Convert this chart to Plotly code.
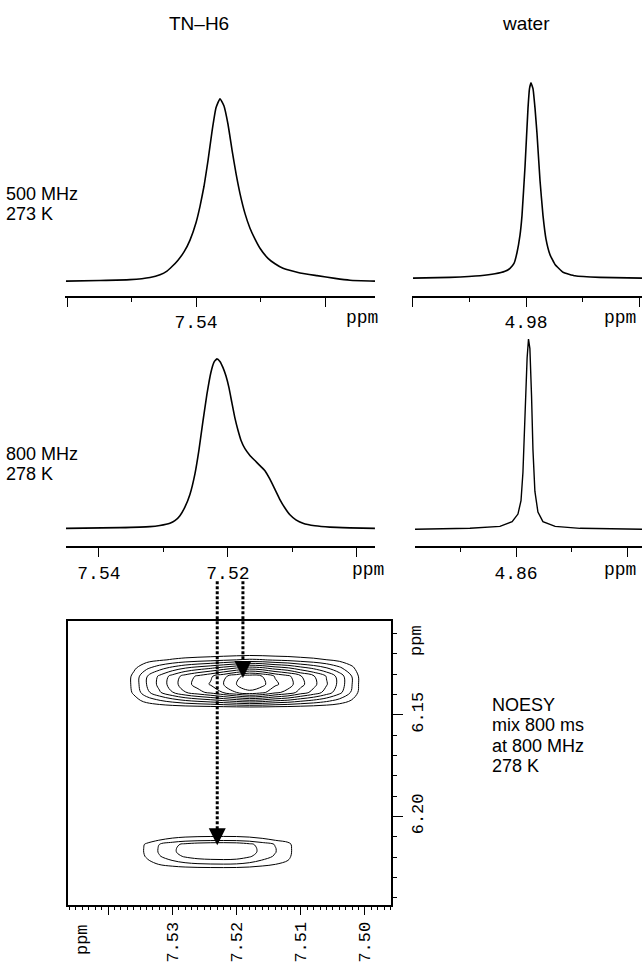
import plotly.graph_objects as go

W, H = 642, 963
MONO = "Liberation Mono, Courier New, monospace"
SANS = "Liberation Sans, Arial, sans-serif"

# ---------------- data ----------------
# 500 MHz / 273 K, TN-H6 (ppm, normalised intensity)
tn500_ppm = [7.56016, 7.55488, 7.55023, 7.54713, 7.54558, 7.54450, 7.54372, 7.54279, 7.54186, 7.54093,
             7.54000, 7.53938, 7.53876, 7.53814, 7.53752, 7.53690, 7.53628, 7.53566, 7.53504, 7.53442,
             7.53380, 7.53318, 7.53240, 7.53163, 7.53085, 7.53008, 7.52884, 7.52775, 7.52651, 7.52388,
             7.52124, 7.51845, 7.51612, 7.51225]
tn500_int = [0.0, 0.003, 0.008, 0.02, 0.035, 0.055, 0.08, 0.115, 0.16, 0.225,
             0.32, 0.41, 0.52, 0.66, 0.82, 0.95, 1.0, 0.96, 0.86, 0.72,
             0.59, 0.48, 0.37, 0.29, 0.23, 0.18, 0.125, 0.095, 0.07, 0.045,
             0.03, 0.015, 0.005, 0.0]

# 500 MHz water
w500_ppm = [5.0200, 5.0069, 4.99628, 4.99097, 4.98743, 4.98566, 4.98425, 4.98319, 4.98212, 4.98142,
            4.98035, 4.97929, 4.97876, 4.97823, 4.97752, 4.97681, 4.97611, 4.97504, 4.97398, 4.97292,
            4.97150, 4.96973, 4.96690, 4.96265, 4.95381, 4.93894]
w500_int = [0.0, 0.004, 0.012, 0.022, 0.035, 0.05, 0.075, 0.13, 0.22, 0.32,
            0.57, 0.87, 0.97, 1.0, 0.97, 0.87, 0.74, 0.50, 0.32, 0.20,
            0.12, 0.07, 0.03, 0.012, 0.004, 0.0]

# 800 MHz / 278 K, TN-H6
tn800_ppm = [7.54512, 7.53674, 7.53209, 7.53054, 7.52899, 7.52822, 7.52744, 7.52667, 7.52589, 7.52512,
             7.52450, 7.52388, 7.52326, 7.52264, 7.52217, 7.52171, 7.52124, 7.52078, 7.52031, 7.51984,
             7.51938, 7.51891, 7.51845, 7.51798, 7.51736, 7.51659, 7.51581, 7.51504, 7.51426, 7.51349,
             7.51271, 7.51194, 7.51116, 7.51039, 7.50946, 7.50837, 7.50651, 7.50419, 7.50109, 7.49721]
tn800_int = [0.0, 0.004, 0.01, 0.017, 0.03, 0.045, 0.075, 0.125, 0.2, 0.32,
             0.46, 0.63, 0.79, 0.92, 0.98, 1.0, 0.985, 0.95, 0.9, 0.83,
             0.74, 0.65, 0.58, 0.52, 0.47, 0.43, 0.40, 0.37, 0.34, 0.29,
             0.23, 0.17, 0.12, 0.08, 0.05, 0.03, 0.015, 0.007, 0.003, 0.0]

# 800 MHz water
w800_ppm = [4.8964, 4.8766, 4.8658, 4.8614, 4.8593, 4.8582, 4.8575, 4.8568, 4.8560, 4.8555,
            4.8550, 4.8544, 4.8539, 4.8532, 4.8521, 4.8503, 4.8459, 4.8369, 4.8146]
w800_int = [0.0, 0.005, 0.015, 0.04, 0.08, 0.15, 0.30, 0.60, 0.90, 1.0,
            0.95, 0.70, 0.42, 0.20, 0.09, 0.04, 0.015, 0.005, 0.0]

# NOESY cross peaks: grid columns (F2 ppm) and rows (F1 ppm) with intensity profiles
noesy_cols = [7.538, 7.536, 7.534, 7.532, 7.530, 7.528, 7.526, 7.524, 7.522, 7.520,
              7.518, 7.516, 7.514, 7.512, 7.510, 7.508, 7.506, 7.504, 7.502, 7.500]
upper_x_profile = [0.0, 1.3, 3.0, 4.3, 5.5, 6.6, 7.4, 8.1, 9.0, 10.0,
                   10.8, 10.3, 9.2, 8.5, 7.3, 6.3, 5.1, 3.7, 2.0, 0.0]
upper_rows = [6.119, 6.123, 6.127, 6.131, 6.135, 6.139, 6.143, 6.147, 6.151]
upper_y_profile = [0.0, 0.2, 0.6, 0.97, 1.0, 0.9, 0.45, 0.0, 0.0]

lower_x_profile = [0.0, 0.3, 1.2, 2.1, 2.8, 3.4, 3.75, 3.9, 3.95, 3.85,
                   3.4, 2.7, 2.05, 1.4, 0.0, 0.0, 0.0, 0.0, 0.0, 0.0]
lower_rows = [6.2078, 6.2098, 6.2118, 6.2137, 6.2157, 6.2176, 6.2196, 6.2216, 6.2235, 6.2255, 6.2275]
lower_y_profile = [0.0, 0.25, 0.5, 0.95, 1.0, 1.0, 0.92, 0.72, 0.5, 0.2, 0.0]

# arrows (NOESY coordinates of the arrow tips)
arrow_x = [7.5190, 7.5230]
arrow_y = [6.1319, 6.2142]

# ticks
tl_major = [7.56, 7.54, 7.52]; tl_major_text = ["", "7.54", ""]; tl_minor = [7.55, 7.53]
tw_major = [5.02, 4.98, 4.94]; tw_major_text = ["", "4.98", ""]; tw_minor = [5.00, 4.96]
ml_major = [7.54, 7.52, 7.50]; ml_major_text = ["7.54", "7.52", ""]; ml_minor = [7.53, 7.51]
mw_major = [4.86, 4.82]; mw_major_text = ["4.86", ""]; mw_minor = [4.88, 4.84]
nx_major = [7.54, 7.53, 7.52, 7.51, 7.50]; nx_major_text = ["", "7.53", "7.52", "7.51", "7.50"]
ny_major = [6.15, 6.20]; ny_major_text = ["6.15", "6.20"]
ny_minor = [6.11, 6.12, 6.13, 6.14, 6.16, 6.17, 6.18, 6.19, 6.21, 6.22, 6.23, 6.24]

# ---------------- layout helpers ----------------
def fx(px):
    return px / W

def fy(py):
    return 1 - py / H

NOESY_Y_RANGE = [6.24363, 6.10392]
NOESY_TOP, NOESY_BOT = 623, 908


def noesy_py(v):
    return NOESY_TOP + (v - NOESY_Y_RANGE[1]) / (NOESY_Y_RANGE[0] - NOESY_Y_RANGE[1]) * (NOESY_BOT - NOESY_TOP)


fig = go.Figure()

fig.add_trace(go.Scatter(x=tn500_ppm, y=tn500_int, mode="lines",
                         line=dict(shape="spline", smoothing=0.4, color="black", width=1.6), xaxis="x", yaxis="y"))
fig.add_trace(go.Scatter(x=w500_ppm, y=w500_int, mode="lines",
                         line=dict(shape="spline", smoothing=0.3, color="black", width=1.6), xaxis="x2", yaxis="y2"))
fig.add_trace(go.Scatter(x=tn800_ppm, y=tn800_int, mode="lines",
                         line=dict(shape="spline", smoothing=0.4, color="black", width=1.6), xaxis="x3", yaxis="y3"))
fig.add_trace(go.Scatter(x=w800_ppm, y=w800_int, mode="lines",
                         line=dict(color="black", width=1.4), xaxis="x4", yaxis="y4"))

upper_z = [[ry * cx for cx in upper_x_profile] for ry in upper_y_profile]
lower_z = [[ry * cx for cx in lower_x_profile] for ry in lower_y_profile]
for rows, z in ((upper_rows, upper_z), (lower_rows, lower_z)):
    fig.add_trace(go.Contour(
        x=noesy_cols, y=rows, z=z, xaxis="x5", yaxis="y5",
        contours=dict(coloring="lines", start=1, end=10, size=1, showlabels=False),
        colorscale=[[0, "black"], [1, "black"]], showscale=False,
        line=dict(width=1), hoverinfo="skip"))

fig.add_trace(go.Scatter(x=arrow_x, y=arrow_y, mode="markers", xaxis="x5", yaxis="y5",
                         marker=dict(symbol="arrow-down", size=17, color="black"),
                         cliponaxis=False))

ARROW_START_PY = 583
shapes = []
for ax_, ay_ in zip(arrow_x, arrow_y):
    shapes.append(dict(type="line", xref="x5", yref="paper", x0=ax_, x1=ax_,
                       y0=fy(ARROW_START_PY), y1=fy(noesy_py(ay_) - 15),
                       line=dict(color="black", width=3, dash="3px,2px")))


def spec_x(domain, rng, anchor, major, major_text, minor):
    return dict(domain=domain, range=rng, anchor=anchor, showline=True, linecolor="black", linewidth=1.6,
                ticks="outside", ticklen=9, tickwidth=1.4, tickcolor="black",
                tickmode="array", tickvals=major, ticktext=major_text,
                tickfont=dict(family=MONO, size=18, color="black"),
                minor=dict(tickmode="array", tickvals=minor, ticks="outside", ticklen=4, tickwidth=1, tickcolor="black"),
                showgrid=False, zeroline=False, fixedrange=True)


def spec_y(domain, rng, anchor):
    return dict(domain=domain, range=rng, visible=False, anchor=anchor, fixedrange=True)


layout = dict(
    width=W, height=H, margin=dict(l=0, r=0, t=0, b=0),
    paper_bgcolor="white", plot_bgcolor="rgba(0,0,0,0)", showlegend=False,
    xaxis=spec_x([fx(65), fx(375)], [7.56031, 7.51225], "y", tl_major, tl_major_text, tl_minor),
    yaxis=spec_y([fy(297), fy(90)], [-0.08197, 1.04918], "x"),
    xaxis2=spec_x([fx(412), 1.0], [5.02035, 4.93894], "y2", tw_major, tw_major_text, tw_minor),
    yaxis2=spec_y([fy(297), fy(75)], [-0.09184, 1.04082], "x2"),
    xaxis3=spec_x([fx(66), fx(375)], [7.5451, 7.4972], "y3", ml_major, ml_major_text, ml_minor),
    yaxis3=spec_y([fy(548), fy(340)], [-0.10588, 1.11765], "x3"),
    xaxis4=spec_x([fx(415), 1.0], [4.8964, 4.8146], "y4", mw_major, mw_major_text, mw_minor),
    yaxis4=spec_y([fy(548), fy(320)], [-0.08947, 1.10526], "x4"),
    xaxis5=dict(domain=[fx(68), fx(391)], range=[7.54623, 7.49595], anchor="y5",
                showline=True, mirror=True, linecolor="black", linewidth=1.6,
                ticks="outside", ticklen=8, tickwidth=1.2, tickcolor="black",
                tickmode="array", tickvals=nx_major, ticktext=nx_major_text, tickangle=-90,
                tickfont=dict(family=MONO, size=17, color="black"),
                minor=dict(dtick=0.001, tick0=7.5, ticks="outside", ticklen=3, tickwidth=1, tickcolor="black"),
                showgrid=False, zeroline=False, fixedrange=True),
    yaxis5=dict(domain=[fy(NOESY_BOT), fy(NOESY_TOP)], range=NOESY_Y_RANGE, anchor="x5", side="right",
                showline=True, mirror=True, linecolor="black", linewidth=1.6,
                ticks="outside", ticklen=10, tickwidth=1.2, tickcolor="black",
                tickmode="array", tickvals=ny_major, ticktext=ny_major_text, tickangle=-90,
                tickfont=dict(family=MONO, size=17, color="black"),
                minor=dict(tickmode="array", tickvals=ny_minor, ticks="outside", ticklen=4, tickwidth=1, tickcolor="black"),
                showgrid=False, zeroline=False, fixedrange=True),
    shapes=shapes,
)
fig.update_layout(**layout)


def note(text, px, py, size=18, family=SANS, xanchor="center", angle=0):
    fig.add_annotation(text=text, x=fx(px), y=fy(py), xref="paper", yref="paper",
                       showarrow=False, xanchor=xanchor, yanchor="middle", textangle=angle,
                       font=dict(family=family, size=size, color="black"))


note("TN–H6", 199, 24, size=19)
note("water", 526, 24, size=19)
note("500 MHz", 4, 195, xanchor="left")
note("273 K", 4, 215, xanchor="left")
note("800 MHz", 4, 455, xanchor="left")
note("278 K", 4, 475, xanchor="left")
note("NOESY", 490, 707, xanchor="left")
note("mix 800 ms", 490, 727, xanchor="left")
note("at 800 MHz", 490, 748, xanchor="left")
note("278 K", 490, 768, xanchor="left")
# axis unit labels
note("ppm", 362, 319, family=MONO)
note("ppm", 620, 319, family=MONO)
note("ppm", 368, 572, family=MONO)
note("ppm", 620, 572, family=MONO)
note("ppm", 82, 942, size=17, family=MONO, angle=-90)
note("ppm", 417, 643, size=17, family=MONO, angle=-90)

fig.write_html("out.html", config={"displayModeBar": False},
               post_script="document.body.style.margin='0';")
